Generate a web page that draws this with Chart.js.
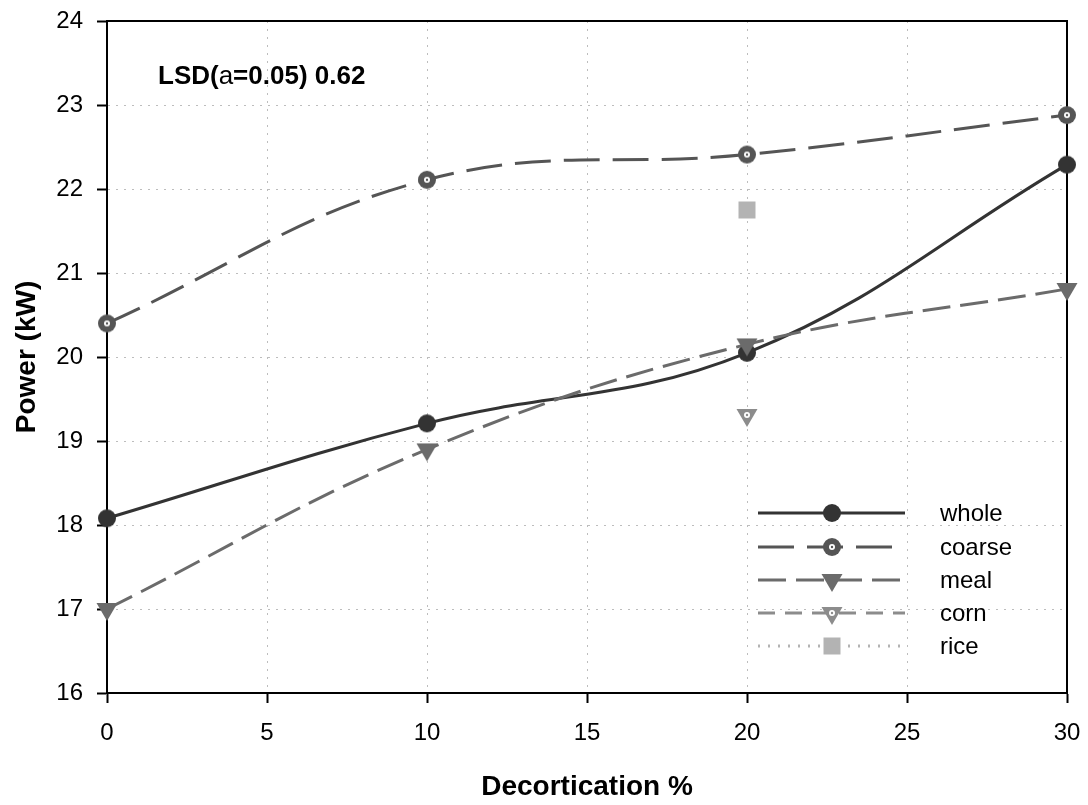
<!DOCTYPE html>
<html>
<head>
<meta charset="utf-8">
<script src="https://cdn.jsdelivr.net/npm/chart.js@4.4.1/dist/chart.umd.min.js"></script>
<style>
  html, body { margin: 0; padding: 0; background: #fff; }
  #wrap { width: 1088px; height: 805px; position: relative; }
</style>
</head>
<body>
<div id="wrap"><canvas id="myChart" width="1088" height="805"></canvas></div>
<script>

// data
var decortication = [0, 10, 20, 30];
var whole  = [18.08, 19.21, 20.05, 22.29];
var coarse = [20.40, 22.11, 22.41, 22.88];
var meal   = [17.00, 18.90, 20.15, 20.81];
var corn   = [null, null, 19.31, null];
var rice   = [null, null, 21.75, null];

var xTicks = [0, 5, 10, 15, 20, 25, 30];
var yTicks = [16, 17, 18, 19, 20, 21, 22, 23, 24];

var seriesNames = ['whole', 'coarse', 'meal', 'corn', 'rice'];
var lsdText = ['LSD(', 'a', '=0.05) 0.62'];

const FONT = '"Liberation Sans", Arial, sans-serif';

function marker(kind, color) {
    const c = document.createElement('canvas');
    c.width = 28; c.height = 28;
    const g = c.getContext('2d');
    const m = 14;
    g.fillStyle = color;
    g.beginPath();
    if (kind === 'dot') g.arc(m, m, 9, 0, Math.PI * 2);
    if (kind === 'ring') g.arc(m, m, 9, 0, Math.PI * 2);
    if (kind === 'tri' || kind === 'triRing') {
        g.moveTo(m - 10.5, m - 6);
        g.lineTo(m + 10.5, m - 6);
        g.lineTo(m, m + 12);
        g.closePath();
    }
    if (kind === 'square') g.rect(m - 8.5, m - 8.5, 17, 17);
    g.fill();
    if (kind === 'ring' || kind === 'triRing') {
        g.fillStyle = '#fff';
        g.beginPath(); g.arc(m, m, 3, 0, Math.PI * 2); g.fill();
        g.fillStyle = color;
        g.beginPath(); g.arc(m, m, 1.2, 0, Math.PI * 2); g.fill();
    }
    return c;
}

function toPoints(vals) {
    return vals.map((v, i) => ({ x: decortication[i], y: v }));
}

const styles = [
    { color: '#333333', dash: [], marker: 'dot', order: 5 },
    { color: '#555555', dash: [36, 13], marker: 'ring', order: 4 },
    { color: '#6b6b6b', dash: [28, 10], marker: 'tri', order: 3 },
    { color: '#8c8c8c', dash: [17, 10], marker: 'triRing', order: 2 },
    { color: '#b3b3b3', dash: [2, 8], marker: 'square', order: 1 }
];
const values = [whole, coarse, meal, corn, rice];

const datasets = seriesNames.map((name, i) => {
    const s = styles[i];
    const img = marker(s.marker, s.color);
    return {
        label: name,
        data: toPoints(values[i]),
        borderColor: s.color,
        backgroundColor: s.color,
        borderWidth: 3,
        borderDash: s.dash,
        tension: 0.4,
        pointStyle: img,
        pointRadius: 10,
        pointHoverRadius: 10,
        order: s.order,
        clip: false,
        _img: img
    };
});

const decorPlugin = {
    id: 'decor',
    beforeDatasetsDraw(chart) {
        const { ctx, chartArea: a } = chart;
        ctx.save();
        ctx.setLineDash([]);
        ctx.strokeStyle = '#000';
        ctx.lineWidth = 2;
        ctx.strokeRect(a.left, a.top, a.right - a.left, a.bottom - a.top);
        ctx.restore();
    },
    afterDraw(chart) {
        const { ctx } = chart;
        ctx.save();
        // LSD note
        let x = 158;
        const base = 84;
        ctx.fillStyle = '#000';
        ctx.textBaseline = 'alphabetic';
        ctx.textAlign = 'left';
        lsdText.forEach((t, i) => {
            ctx.font = (i === 1 ? '' : 'bold ') + '26px ' + FONT;
            ctx.fillText(t, x, base);
            x += ctx.measureText(t).width;
        });

        // legend
        const rowY = [513, 547, 580, 613, 646];
        chart.data.datasets.forEach((d, i) => {
            const y = rowY[i];
            ctx.strokeStyle = d.borderColor;
            ctx.lineWidth = 3;
            ctx.setLineDash(d.borderDash);
            ctx.beginPath();
            ctx.moveTo(758, y);
            ctx.lineTo(905, y);
            ctx.stroke();
            ctx.setLineDash([]);
            const img = d._img;
            ctx.drawImage(img, 832 - img.width / 2, y - img.height / 2);
            ctx.fillStyle = '#000';
            ctx.font = '24px ' + FONT;
            ctx.textBaseline = 'middle';
            ctx.fillText(d.label, 940, y + 1);
        });
        ctx.restore();
    }
};

const gridCommon = {
    color: '#bdbdbd',
    lineWidth: 1,
    tickColor: '#000',
    tickWidth: 2,
    tickLength: 10,
    tickBorderDash: []
};

myChart = new Chart(document.getElementById('myChart'), {
    type: 'line',
    data: { datasets },
    plugins: [decorPlugin],
    options: {
        responsive: false,
        animation: false,
        events: [],
        layout: { padding: { top: 21, right: 21, left: 0, bottom: 0 } },
        plugins: { legend: { display: false }, tooltip: { enabled: false } },
        scales: {
            x: {
                type: 'linear',
                min: xTicks[0],
                max: xTicks[xTicks.length - 1],
                afterBuildTicks: s => { s.ticks = xTicks.map(v => ({ value: v })); },
                afterFit: s => { s.height = 112; s.paddingLeft = 0; s.paddingRight = 0; },
                grid: gridCommon,
                border: { color: '#000', width: 2, dash: [2, 6] },
                ticks: { color: '#000', font: { family: FONT, size: 24 }, padding: 16, maxRotation: 0 },
                title: {
                    display: true, text: 'Decortication %', color: '#000',
                    font: { family: FONT, size: 28, weight: 'bold' },
                    padding: { top: 0, bottom: 1 }
                }
            },
            y: {
                type: 'linear',
                min: yTicks[0],
                max: yTicks[yTicks.length - 1],
                afterBuildTicks: s => { s.ticks = yTicks.map(v => ({ value: v })); },
                afterFit: s => { s.width = 107; s.paddingTop = 0; s.paddingBottom = 0; },
                grid: gridCommon,
                border: { color: '#000', width: 2, dash: [2, 6] },
                ticks: { color: '#000', font: { family: FONT, size: 24 }, padding: 14 },
                title: {
                    display: true, text: 'Power (kW)', color: '#000',
                    font: { family: FONT, size: 28, weight: 'bold' },
                    padding: { top: 10, bottom: 0 }
                }
            }
        }
    }
});
</script>
</body>
</html>
